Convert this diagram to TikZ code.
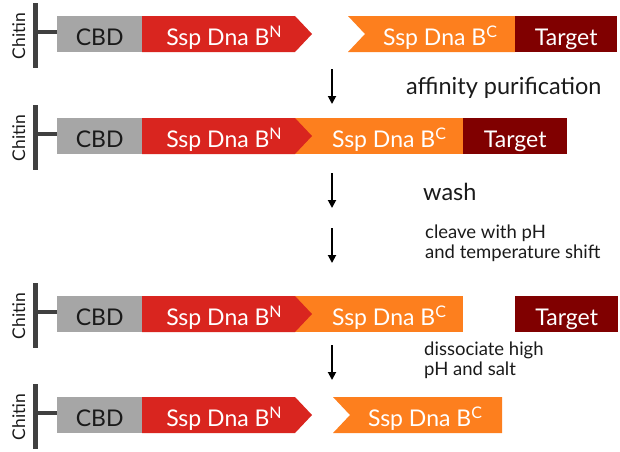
\documentclass[tikz,border=0pt]{standalone}
\usepackage{fontspec}
\setmainfont{Lato}
\usetikzlibrary{arrows.meta, positioning}
\definecolor{cbdgray}{RGB}{166,166,166}
\definecolor{nred}{RGB}{217,37,31}
\definecolor{corange}{RGB}{253,127,30}
\definecolor{targetred}{RGB}{128,0,0}
\definecolor{chitingray}{RGB}{64,64,64}
\definecolor{textdark}{RGB}{26,26,26}
\newcommand{\termsup}[1]{\raisebox{8pt}{\fontsize{16}{16}\selectfont #1}}

\begin{document}
\begin{tikzpicture}[x=1pt, y=-1pt,
    bar/.style={chitingray, line width=4.5pt},
    chitin/.style={rotate=90, anchor=base, font=\fontsize{17.5}{17.5}\selectfont, text=textdark, inner sep=0pt},
    cbd/.style={fill=cbdgray, minimum width=85pt, minimum height=36pt, inner sep=0pt, anchor=north west},
    target/.style={fill=targetred, minimum width=102pt, minimum height=36pt, inner sep=0pt, anchor=north west},
    lbl/.style={anchor=base, inner sep=0pt, font=\fontsize{23}{23}\selectfont},
    stepline/.style={-{Triangle[length=8pt, width=8pt]}, line width=1.8pt, black},
    note/.style={anchor=base west, inner sep=0pt, text=textdark, font=\fontsize{23.5}{23.5}\selectfont},
    smallnote/.style={anchor=base west, inner sep=0pt, text=textdark, align=left, font=\fontsize{18.5}{20}\selectfont}]
    \useasboundingbox (0,0) rectangle (620,451);

    % chitin, CBD and Ssp Dna B^N in every row
    \foreach \t [count=\i] in {16,118,296,397} {
        \draw[bar] (35.5,\t-13) -- (35.5,\t+52);
        \draw[bar] (35.5,\t+16) -- (57,\t+16);
        \node[chitin] (chitin\i) at (25,\t+20) {Chitin};
        \node[cbd] (cbd\i) at (57,\t) {};
        \node[lbl, text=textdark] at ([yshift=-11pt]cbd\i.center) {CBD};
    }

    % row 1: split intein before binding
    \fill[corange] (348,16) -- (515,16) -- (515,52) -- (348,52) -- (365,34) -- cycle;
    \node[lbl, text=white] (c1) at (440,45) {Ssp Dna B\termsup{C}};
    \node[target] (target1) at (515,16) {};
    \node[lbl, text=white] at ([yshift=-11pt]target1.center) {Target};

    % row 2: bound complex
    \fill[corange] (290,118) -- (463,118) -- (463,154) -- (290,154) -- cycle;
    \node[lbl, text=white] (c2) at (389,147) {Ssp Dna B\termsup{C}};
    \node[target, minimum width=104pt] (target2) at (463,118) {};
    \node[lbl, text=white] at ([yshift=-11pt]target2.center) {Target};

    % row 3: target released
    \fill[corange] (290,296) -- (463,296) -- (463,332) -- (290,332) -- cycle;
    \node[lbl, text=white] (c3) at (389,325) {Ssp Dna B\termsup{C}};
    \node[target, minimum width=103pt] (target3) at (515,296) {};
    \node[lbl, text=white] at ([yshift=-11pt]target3.center) {Target};

    % row 4: split intein dissociated
    \fill[corange] (333,397) -- (502,397) -- (502,433) -- (333,433) -- (350,415) -- cycle;
    \node[lbl, text=white] (c4) at (425,426) {Ssp Dna B\termsup{C}};

    % Ssp Dna B^N arrows drawn last so the tip sits on the orange
    \foreach \t [count=\i] in {16,118,296,397} {
        \fill[nred] (142,\t) -- (295,\t) -- (312,\t+18) -- (295,\t+36) -- (142,\t+36) -- cycle;
        \node[lbl, text=white] (n\i) at (224,\t+29) {Ssp Dna B\termsup{N}};
    }

    % steps
    \coordinate (s1) at (332,69);  \coordinate (e1) at (332,104);
    \coordinate (s2) at (332,173); \coordinate (e2) at (332,208);
    \coordinate (s3) at (332,228); \coordinate (e3) at (332,263);
    \coordinate (s4) at (332,345); \coordinate (e4) at (332,380);
    \draw[stepline] (s1) -- (e1);
    \draw[stepline] (s2) -- (e2);
    \draw[stepline] (s3) -- (e3);
    \draw[stepline] (s4) -- (e4);

    \node[note] (affinity) at (406,94) {affinity purification};
    \node[note] (wash) at (423,200) {wash};
    \node[smallnote] (cleave) at (425,258) {cleave with pH\\and temperature shift};
    \node[smallnote] (dissoc) at (424,375) {dissociate high\\pH and salt};
\end{tikzpicture}
\end{document}
